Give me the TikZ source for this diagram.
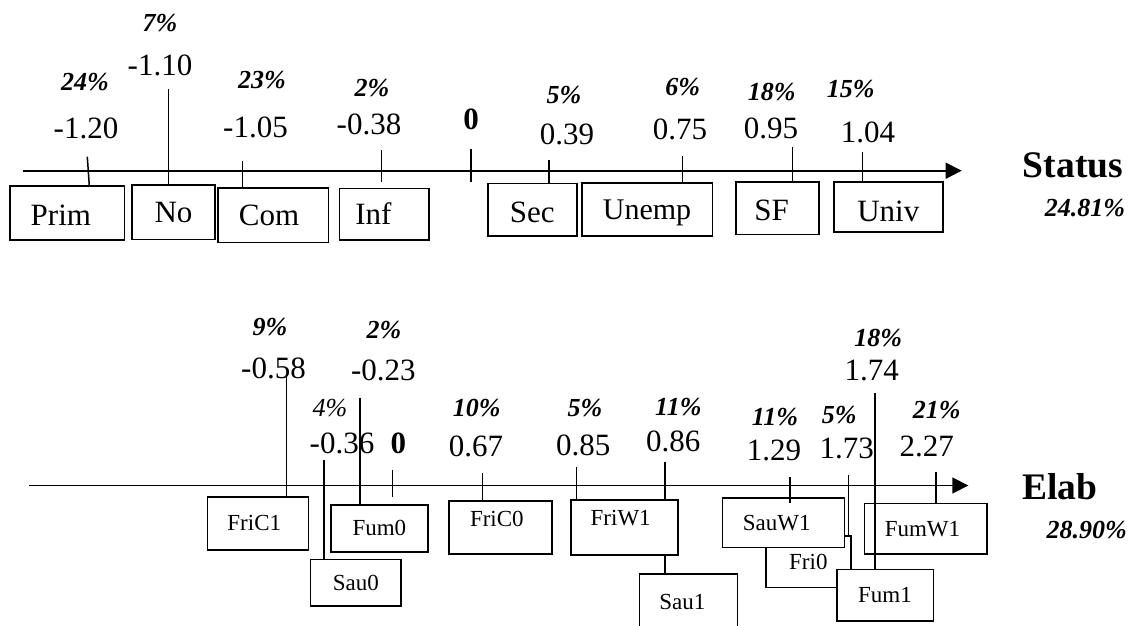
\documentclass[tikz,border=0pt]{standalone}
\usepackage{fontspec}
\setmainfont{Liberation Serif}
\usetikzlibrary{arrows.meta}
\tikzset{
  num/.style={inner sep=0pt, font=\fontsize{31}{31}\selectfont},
  pct/.style={inner sep=0pt, font=\fontsize{26}{26}\selectfont\bfseries\itshape},
  pcti/.style={inner sep=0pt, font=\fontsize{26}{26}\selectfont\itshape},
  zerolab/.style={inner sep=0pt, font=\fontsize{31}{31}\selectfont\bfseries},
  axname/.style={inner sep=0pt, font=\fontsize{37.5}{37.5}\selectfont\bfseries},
  tbox/.style={draw, line width=1.6pt, fill=white, inner sep=0pt, outer sep=0pt,
    font=\fontsize{31}{31}\selectfont, text height=20.5pt, text depth=0pt},
  bbox/.style={tbox, font=\fontsize{23}{23}\selectfont, text height=15.2pt},
  sz/.style n args={2}{minimum width=#1pt, minimum height=#2pt},
  conn/.style={line width=1.5pt},
  axisline/.style={line width=1.6pt, -{Triangle[length=16pt,width=16pt]}},
}
\begin{document}
\begin{tikzpicture}[x=1pt,y=-1pt]
\useasboundingbox (0,0) rectangle (1132,625);
\clip (0,0) rectangle (1132,625);

% ---------------- top: Status ----------------
\node[tbox, sz={114.3}{54.3}, text height=24.5pt] (prim)  at (67.15,212.85) {Prim\kern12.6pt};
\node[tbox, sz={83}{54.3}]    (no)    at (173.5,212.15) {No};
\node[tbox, sz={110.6}{54.6}] (com)   at (273,215)      {Com\kern8pt};
\node[tbox, sz={89.7}{51.7}]  (inf)   at (384.15,214.15) {Inf\kern21.4pt};
\node[tbox, sz={89}{52.4}, text height=26.5pt] (sec) at (532.2,209.5) {Sec};
\node[tbox, sz={130.6}{53}, font=\fontsize{30}{30}\selectfont]  (unemp) at (647,209.2) {Unemp};
\node[tbox, sz={83}{52.6}, text height=24.5pt] (sf) at (777.5,208) {SF\kern12pt};
\node[tbox, sz={108.7}{50}, text height=30.5pt] (univ) at (888.35,206.7) {Univ};

\coordinate (ax1s) at (23,170.7);
\coordinate (ax1e) at (961.7,170.7);
\draw[axisline] (ax1s) -- (ax1e);

\node[pct] (p24) at (85,82)   {24\%};
\node[num] (n120) at (86,128) {-1.20};
\node[pct] (p7) at (160,23)   {7\%};
\node[num] (n110) at (160,65) {-1.10};
\node[pct] (p23) at (262,80)  {23\%};
\node[num] (n105) at (255.5,127.5) {-1.05};
\node[pct] (p2) at (372,88)   {2\%};
\node[num] (n038) at (369,124) {-0.38};
\node[zerolab] (z1) at (471,119) {0};
\node[pct] (p5) at (564,95)   {5\%};
\node[num] (n039) at (567,134) {0.39};
\node[pct] (p6) at (682.7,87) {6\%};
\node[num] (n075) at (680,129) {0.75};
\node[pct] (p18) at (771.7,92) {18\%};
\node[num] (n095) at (771,128.3) {0.95};
\node[pct] (p15) at (850.7,89) {15\%};
\node[num] (n104) at (868,132) {1.04};
\node[axname] (status) at (1073,165.7) {Status};
\node[pct] (s2481) at (1085,208) {24.81\%};

\coordinate (primt) at (87.3,156.7);
\coordinate (not) at (168.3,89.3);
\coordinate (comt) at (242.7,160.7);
\coordinate (inft) at (381.7,150);
\coordinate (infb) at (381.7,181.7);
\coordinate (z1t) at (471,149);
\coordinate (z1b) at (471,182);
\coordinate (sect) at (549,160);
\coordinate (unempt) at (682.7,156);
\coordinate (sft) at (792.7,146.7);
\coordinate (univt) at (862.3,152.3);

\draw[conn] (primt) -- (prim.north -| 89.3,0);
\draw[conn] (not) -- (no.north -| not);
\draw[conn] (comt) -- (com.north -| comt);
\draw[conn] (inft) -- (infb);
\draw[conn] (z1t) -- (z1b);
\draw[conn] (sect) -- (sec.north -| sect);
\draw[conn] (unempt) -- (unemp.north -| unempt);
\draw[conn] (sft) -- (sf.north -| sft);
\draw[conn] (univt) -- (univ.north -| univt);

% ---------------- bottom: Elab ----------------
\node[bbox, sz={84.7}{51.3}]  (fri0)  at (808.35,561.65) {Fri0};
\node[bbox, sz={101}{53.3}]   (fric1) at (257.8,523.35) {FriC1\kern7pt};
\node[bbox, sz={90.5}{46.7}]  (sau0)  at (355.75,582.65) {Sau0};
\node[bbox, sz={96.7}{46.7}]  (fum0)  at (379.35,528.35) {Fum0};
\node[bbox, sz={102.7}{53.3}, text depth=16.4pt] (fric0) at (500.35,527.35) {FriC0\kern7pt};
\node[bbox, sz={107}{55}, text depth=19pt] (friw1) at (624.2,527.5) {FriW1\kern7pt};
\node[bbox, sz={98}{56}]      (sau1)  at (688.3,602)    {Sau1\kern12pt};
\node[bbox, sz={122}{49.6}]   (sauw1) at (783.3,522.5)  {SauW1\kern13pt};
\node[bbox, sz={96.6}{51.4}]  (fum1)  at (885,595)      {Fum1};
\node[bbox, sz={122.4}{50.7}] (fumw1) at (925.5,528.65) {FumW1\kern6pt};

\coordinate (ax2s) at (29.3,485.5);
\coordinate (ax2e) at (968.3,485.5);
\draw[axisline] (ax2s) -- (ax2e);

\node[pct] (p9) at (270,326.7) {9\%};
\node[num] (n058) at (273.5,368) {-0.58};
\node[pcti] (p4) at (330,408.3) {4\%};
\node[num] (n036) at (342,443.5) {-0.36};
\node[pct] (p2b) at (384,330) {2\%};
\node[num] (n023) at (383.3,370) {-0.23};
\node[zerolab] (z2) at (398.3,443.5) {0};
\node[pct] (p10) at (476.7,408.3) {10\%};
\node[num] (n067) at (476,446.3) {0.67};
\node[pct] (p5b) at (585,408.3) {5\%};
\node[num] (n085) at (583.3,445) {0.85};
\node[pct] (p11) at (678.3,406.7) {11\%};
\node[num] (n086) at (673.3,441.7) {0.86};
\node[pct] (p11b) at (775,416.7) {11\%};
\node[num] (n129) at (774,450.3) {1.29};
\node[pct] (p5c) at (839.3,415) {5\%};
\node[num] (n173) at (846.7,448.3) {1.73};
\node[pct] (p18b) at (878.3,338.3) {18\%};
\node[num] (n174) at (871.7,370) {1.74};
\node[pct] (p21) at (936.7,410) {21\%};
\node[num] (n227) at (926.7,446.7) {2.27};
\node[axname] (elab) at (1060,486.7) {Elab};
\node[pct] (s2890) at (1086.7,530) {28.90\%};

\coordinate (fric1t) at (286.7,377);
\coordinate (sau0t) at (324,460);
\coordinate (fum0t) at (360,397.7);
\coordinate (z2t) at (392.7,470);
\coordinate (z2b) at (392.7,497.3);
\coordinate (fric0t) at (482.7,473.3);
\coordinate (friw1a) at (576.7,466.7);
\coordinate (friw1b) at (665,462.3);
\coordinate (sauw1t) at (790,477.3);
\coordinate (sauw1b) at (790,503.3);
\coordinate (fri0t) at (848.3,475);
\coordinate (fum1t) at (875,393.3);
\coordinate (fumw1t) at (936,472.3);

\draw[conn] (fric1t) -- (fric1.north -| fric1t);
\draw[conn] (sau0t) -- (sau0.north -| sau0t);
\draw[conn] (fum0t) -- (fum0.north -| fum0t);
\draw[conn] (z2t) -- (z2b);
\draw[conn] (fric0t) -- (fric0.north -| fric0t);
\draw[conn] (friw1a) -- (friw1.north -| friw1a);
\draw[conn] (friw1b) -- (friw1.north -| friw1b);
\draw[conn] (friw1.south -| friw1b) -- (sau1.north -| friw1b);
\draw[conn] (sauw1t) -- (sauw1b);
\draw[conn] (fri0t) -- (fri0.north -| fri0t);
\draw[conn] (fum1t) -- (fum1.north -| fum1t);
\draw[conn] (fumw1t) -- (fumw1.north -| fumw1t);
\end{tikzpicture}
\end{document}
